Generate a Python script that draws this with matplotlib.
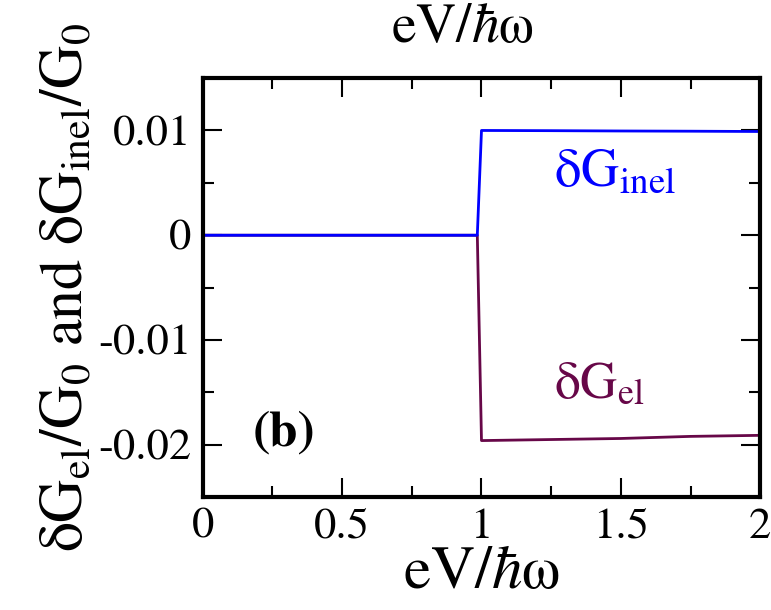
import numpy as np
import matplotlib
matplotlib.use('Agg')
import matplotlib.pyplot as plt
from matplotlib.ticker import MultipleLocator

plt.rcParams['font.family'] = ['STIXGeneral', 'DejaVu Sans']
plt.rcParams['mathtext.fontset'] = 'stix'

# values
x = [0.0, 0.5, 0.985, 1.0, 1.25, 1.5, 1.75, 2.0]
dG_inel = [0.0, 0.0, 0.0, 0.0100, 0.00998, 0.00995, 0.00993, 0.0099]
dG_el = [0.0, 0.0, 0.0, -0.0196, -0.0195, -0.0194, -0.0192, -0.0191]

inel_color = '#0000ff'
el_color = '#670748'

fig = plt.figure(figsize=(7.71, 6.10), dpi=100)
ax = fig.add_axes([0.263, 0.185, 0.723, 0.687])

ax.plot(x, dG_el, color=el_color, lw=2)
ax.plot(x, dG_inel, color=inel_color, lw=2)

ax.set_xlim(0, 2)
ax.set_ylim(-0.025, 0.015)
ax.xaxis.set_minor_locator(MultipleLocator(0.25))
ax.yaxis.set_minor_locator(MultipleLocator(0.005))
ax.set_xticks([0, 0.5, 1, 1.5, 2], ['0', '0.5', '1', '1.5', '2'])
ax.set_yticks([-0.02, -0.01, 0, 0.01], ['-0.02', '-0.01', '0', '0.01'])

ax.tick_params(which='both', direction='in', top=True, right=True, width=1.5,
               labelsize=32, pad=8)
ax.tick_params(which='major', length=14)
ax.tick_params(which='minor', length=8)
for s in ax.spines.values():
    s.set_linewidth(3)

ax.set_xlabel('eV/$\\hbar$ω', fontsize=44, labelpad=0)
ax.set_ylabel('δG$_{\\mathrm{el}}$/G$_0$ and δG$_{\\mathrm{inel}}$/G$_0$',
              fontsize=43, labelpad=2)

ax.text(1.26, 0.0047, 'δG$_{\\mathrm{inel}}$', color=inel_color, fontsize=38)
ax.text(1.26, -0.0155, 'δG$_{\\mathrm{el}}$', color=el_color, fontsize=37)
ax.text(0.18, -0.0201, '(b)', fontsize=37, fontweight='bold')

# axis label of the panel above, cut off at the top
fig.text(0.60, 0.995, 'eV/$\\hbar$ω', fontsize=40, ha='center', va='top')

fig.savefig('out.png', dpi=100)
